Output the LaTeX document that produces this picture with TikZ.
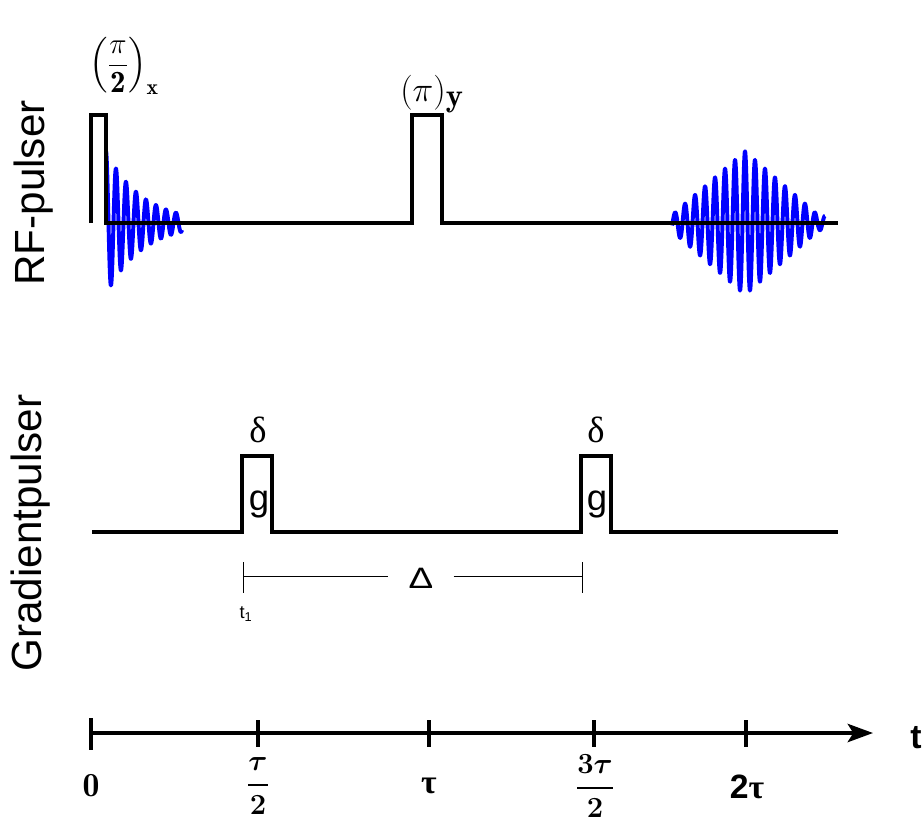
\documentclass[tikz,border=0pt]{standalone}
\usepackage{amsmath,amssymb,bm}
\usepackage{fontspec}
\newfontfamily\arialfont{Liberation Sans}
\newfontfamily\timesfont{Liberation Serif}
\usepackage{tikz}
\usetikzlibrary{arrows.meta,positioning,calc}

\begin{document}
\begin{tikzpicture}[x=0.025cm,y=-0.025cm,
  pulse/.style={black,line width=2.2pt,line join=miter},
  signal/.style={blue,line width=2.8pt,line join=round},
  brk/.style={black,line width=.6pt},
  axis/.style={black,line width=2.6pt},
  sidelabel/.style={rotate=90,inner sep=0pt,font=\arialfont\fontsize{30}{34}\selectfont},
  glabel/.style={inner sep=0pt,font=\arialfont\fontsize{26}{30}\selectfont},
  ticklabel/.style={inner sep=0pt,font=\fontsize{22}{26}\selectfont}]
\useasboundingbox (0,0) rectangle (924,828);
% side labels
\node[sidelabel] (rflab) at (34,193) {RF-pulser};
\node[sidelabel] (gradlab) at (31,533) {Gradientpulser};
% RF line: FID and echo
\draw[signal] plot[domain=106:182,samples=240] (\x,{223-72*exp(-(\x-106)/36)*cos(36*(\x-106))});
\draw[signal] plot[domain=672:825,samples=480] (\x,{223-72*max(0.1,1-abs(\x-745)/82)*cos(36*(\x-745))});
\draw[pulse] (91,223)--(91,115)--(106,115)--(106,223)--(412,223)--(412,115)--(442,115)--(442,223)--(838,223);
\node[inner sep=0pt,font=\fontsize{22}{27}\selectfont] (p90) at (124,66) {$\left(\dfrac{\pi}{\mathbf{2}}\right)_{\mathbf{x}}$};
\node[inner sep=0pt,font=\fontsize{33}{38}\selectfont] (p180) at (432,94) {$(\pi)_{\mathbf{y}}$};
% gradient line
\draw[pulse] (92,532)--(242,532)--(242,456)--(272,456)--(272,532)--(581,532)--(581,456)--(611,456)--(611,532)--(838,532);
\node[inner sep=0pt,font=\timesfont\fontsize{26}{30}\selectfont] (d1) at (258,430) {δ};
\node[inner sep=0pt,font=\timesfont\fontsize{26}{30}\selectfont] (d2) at (596,430) {δ};
\node[glabel,anchor=base] (g1) at (259,510) {g};
\node[glabel,anchor=base] (g2) at (597,510) {g};
% Delta bracket
\coordinate (b1) at (243,576);
\coordinate (b2) at (582,576);
\draw[brk] ($(b1)+(0,-14)$)--($(b1)+(0,17)$);
\draw[brk] ($(b2)+(0,-14)$)--($(b2)+(0,17)$);
\node[inner sep=0pt,font=\arialfont\fontsize{21}{24}\selectfont,xscale=1.25] (dlt) at (421,578) {Δ};
\draw[brk] (b1)--($(b1)!(dlt.west)!(b2)+(-20,0)$);
\draw[brk] ($(b1)!(dlt.east)!(b2)+(20,0)$)--(b2);
\node[inner sep=0pt,font=\arialfont\fontsize{13}{15}\selectfont,anchor=base] (t1) at (246,618) {t\textsubscript{1}};
% time axis
\coordinate (ax0) at (91,733);
\coordinate (axend) at (873,733);
\draw[axis,-{Stealth[length=18pt,width=13pt,inset=4pt]}] (ax0)--(axend);
\draw[axis] (91,718)--(91,750);
\foreach \xx in {258,429,594,746}
  \draw[axis] (\xx,720)--(\xx,747);
\node[inner sep=0pt,font=\arialfont\bfseries\fontsize{24}{28}\selectfont] (tlab) at (916,738) {t};
\node[ticklabel,font=\fontsize{24}{28}\selectfont] (l0) at (91,786) {$\mathbf{0}$};
\node[ticklabel] (l1) at (258,786) {$\bm{\dfrac{\tau}{2}}$};
\node[ticklabel,font=\timesfont\bfseries\fontsize{24}{28}\selectfont] (l2) at (429,786) {τ};
\node[ticklabel] (l3) at (595,786) {$\bm{\dfrac{3\tau}{2}}$};
\node[ticklabel,font=\arialfont\bfseries\fontsize{24}{28}\selectfont] (l4) at (747,787) {2{\timesfont τ}};
\end{tikzpicture}
\end{document}
